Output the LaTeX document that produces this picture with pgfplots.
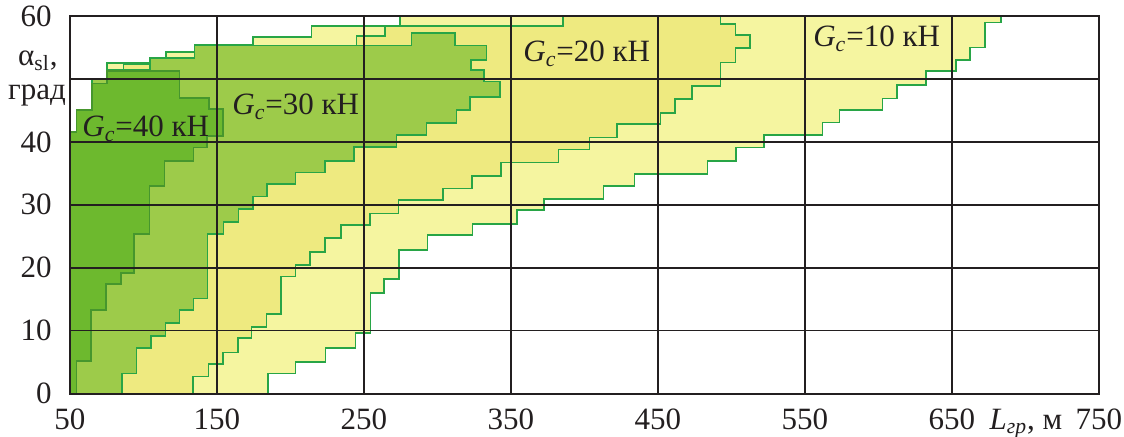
\documentclass[border=0pt]{standalone}
\usepackage{fontspec}
\setmainfont{Liberation Serif}
\usepackage{pgfplots}
\pgfplotsset{compat=1.18}
\definecolor{ly}{RGB}{245,245,160}
\definecolor{yl}{RGB}{238,234,128}
\definecolor{lg}{RGB}{157,203,74}
\definecolor{dg}{RGB}{109,185,46}
\definecolor{edge}{RGB}{40,165,70}
\definecolor{edgedark}{RGB}{70,150,45}
\definecolor{txt}{RGB}{35,31,32}
\begin{document}
\begin{tikzpicture}
\path[use as bounding box] (-35pt,-21.25pt) rectangle (527pt,196.75pt);
\begin{axis}[
  at={(0pt,0pt)}, anchor=south west,
  scale only axis, width=514.5pt, height=188.75pt,
  xmin=50, xmax=750, ymin=0, ymax=60,
  xtick={50,150,...,750}, ytick={0,10,...,60},
  yticklabels={0,10,20,30,40,,60},
  grid=major,
  major grid style={txt, line width=0.9pt},
  axis line style={txt, line width=1pt},
  major tick length=0pt,
  axis on top,
  clip=false,
  /pgf/number format/assume math mode=true,
  tick label style={font=\fontsize{15.5}{18}\selectfont, text=txt, inner sep=0pt},
  xticklabel style={anchor=base, yshift=-17.75pt},
  yticklabel style={anchor=east, xshift=-9pt},
]
\addplot[fill=ly, draw=edge, line width=0.8pt] coordinates {
(50,0)(50,41.6)(54.5,41.6)(54.5,45.1)(64.8,45.1)(64.8,49.9)(75,49.9)(75,52.5)(115.3,52.5)(115.3,54.3)(134.6,54.3)(134.6,55.4)(174.3,55.4)(174.3,56.7)(214.4,56.7)(214.4,58.4)(274.5,58.4)(274.5,60)(683.3,60)(683.3,59)(672.4,59)(672.4,55)(662.2,55)(662.2,53)(652.7,53)(652.7,51.3)(632.3,51.3)(632.3,49.05)(612.4,49.05)(612.4,46.9)(602.6,46.9)(602.6,45.1)(573.4,45.1)(573.4,43.05)(561.8,43.05)(561.8,41.1)(522.3,41.1)(522.3,39.1)(502.9,39.1)(502.9,37)(483.8,37)(483.8,34.9)(434.1,34.9)(434.1,33)(412.8,33)(412.8,30.9)(372.4,30.9)(372.4,29.2)(353.9,29.2)(353.9,26.9)(323.7,26.9)(323.7,25.2)(293.1,25.2)(293.1,22.8)(274,22.8)(274,18.2)(263.6,18.2)(263.6,16)(254.5,16)(254.5,9.6)(244.2,9.6)(244.2,7.2)(223.7,7.2)(223.7,5)(203.3,5)(203.3,3.2)(184.5,3.2)(184.5,0)(50,0)
};
\addplot[fill=yl, draw=edge, line width=0.8pt] coordinates {
(50,0)(50,41.6)(54.5,41.6)(54.5,45.1)(64.8,45.1)(64.8,49.9)(75,49.9)(75,51.5)(86.3,51.5)(86.3,52.3)(104.4,52.3)(104.4,53.3)(134.6,53.3)(134.6,55.3)(245,55.3)(245,56.8)(264.3,56.8)(264.3,58.4)(385.2,58.4)(385.2,60)(492.4,60)(492.4,58.7)(502.7,58.7)(502.7,57)(512.6,57)(512.6,54.9)(502.7,54.9)(502.7,52.6)(492.4,52.6)(492.4,48.9)(473.2,48.9)(473.2,46.8)(461.6,46.8)(461.6,44.6)(451.8,44.6)(451.8,42.8)(422.3,42.8)(422.3,40.7)(403.3,40.7)(403.3,38.8)(382.2,38.8)(382.2,36.7)(343,36.7)(343,34.6)(323.3,34.6)(323.3,32.6)(303.9,32.6)(303.9,30.8)(273.4,30.8)(273.4,28.6)(254.1,28.6)(254.1,26.8)(234.2,26.8)(234.2,24.7)(223.5,24.7)(223.5,22.5)(213.3,22.5)(213.3,20.4)(203.5,20.4)(203.5,18.6)(193.7,18.6)(193.7,12.6)(183.8,12.6)(183.8,10.6)(173.6,10.6)(173.6,8.8)(164.1,8.8)(164.1,6.5)(153.9,6.5)(153.9,4.7)(144.1,4.7)(144.1,2.7)(133.5,2.7)(133.5,0)(50,0)
};
\addplot[fill=lg, draw=edge, line width=0.8pt] coordinates {
(50,0)(50,41.6)(54.5,41.6)(54.5,45.1)(64.8,45.1)(64.8,49.9)(75,49.9)(75,51.5)(104.4,51.5)(104.4,53.3)(134.6,53.3)(134.6,55.3)(282.4,55.3)(282.4,57.3)(311.9,57.3)(311.9,55.3)(333.4,55.3)(333.4,53)(322.6,53)(322.6,51.4)(331.6,51.4)(331.6,49.6)(342.5,49.6)(342.5,47.1)(322.1,47.1)(322.1,45.1)(312.8,45.1)(312.8,43)(292.6,43)(292.6,41.1)(272.2,41.1)(272.2,39.2)(243,39.2)(243,37)(223.5,37)(223.5,35.1)(203.4,35.1)(203.4,33.3)(184.2,33.3)(184.2,31.3)(174.3,31.3)(174.3,29.3)(164.5,29.3)(164.5,27.3)(154.3,27.3)(154.3,25.4)(143.5,25.4)(143.5,15.1)(134,15.1)(134,13.3)(124.5,13.3)(124.5,11.2)(115,11.2)(115,9.1)(105,9.1)(105,7.2)(95.2,7.2)(95.2,3.2)(85.2,3.2)(85.2,0)(50,0)
};
\addplot[fill=dg, draw=edgedark, line width=0.8pt] coordinates {
(50,0)(50,41.6)(54.5,41.6)(54.5,45.1)(64.8,45.1)(64.8,49.3)(75,49.3)(75,51.3)(124.6,51.3)(124.6,47)(144.5,47)(144.5,45.2)(154,45.2)(154,40.9)(143,40.9)(143,39.1)(133.9,39.1)(133.9,37)(114.2,37)(114.2,33)(104,33)(104,25.4)(93.7,25.4)(93.7,19.2)(84.5,19.2)(84.5,17.4)(74.5,17.4)(74.5,13.3)(64.2,13.3)(64.2,5.2)(54.5,5.2)(54.5,0)(50,0)
};
\begin{scope}[every node/.style={font=\fontsize{15.5}{18}\selectfont, text=txt, inner sep=0pt}]
\node[anchor=base west] at (axis cs:58.2,40.8) {{\itshape G}\textsubscript{\itshape c}=40 кН};
\node[anchor=base west] at (axis cs:160.2,44.3) {{\itshape G}\textsubscript{\itshape c}=30 кН};
\node[anchor=base west] at (axis cs:358.2,52.7) {{\itshape G}\textsubscript{\itshape c}=20 кН};
\node[anchor=base west] at (axis cs:555.4,55.1) {{\itshape G}\textsubscript{\itshape c}=10 кН};
\node[anchor=base] at (axis cs:28.2,52.1) {α\textsubscript{sl},};
\node[anchor=base] at (axis cs:27.5,46.7) {град};
\node[anchor=base, yshift=-17.75pt] at (axis cs:700.3,0) {{\itshape L}\textsubscript{\itshape гр}, м};
\end{scope}
\end{axis}
\end{tikzpicture}
\end{document}
